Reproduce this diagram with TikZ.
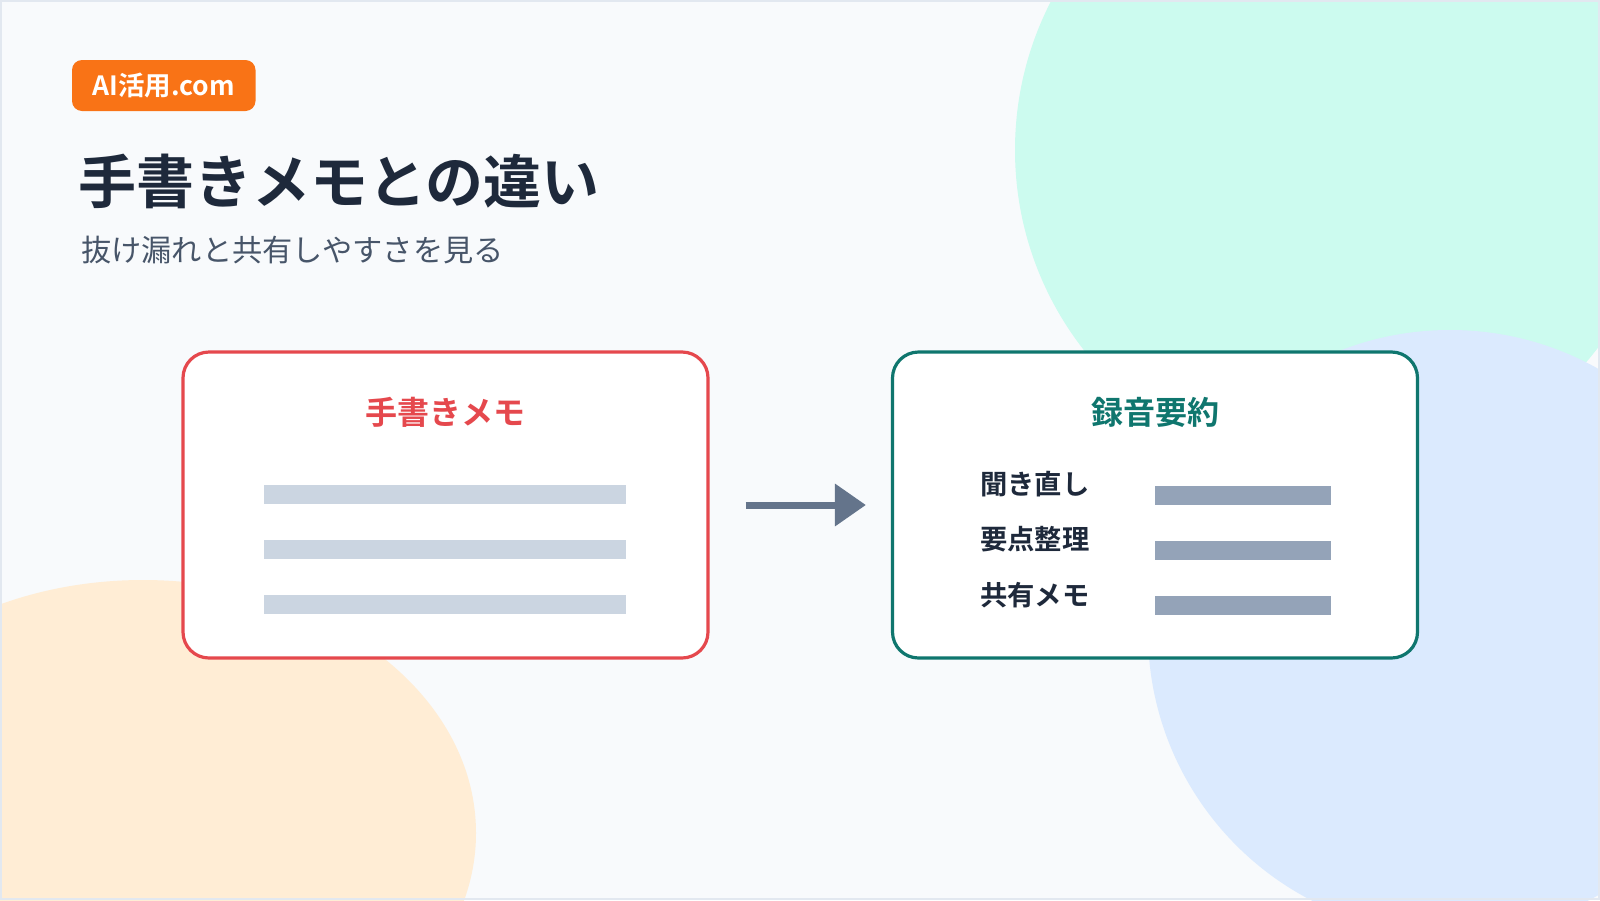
\documentclass[tikz,border=0pt]{standalone}
\usepackage{fontspec}
\setmainfont{Noto Sans CJK JP}[BoldFont={Noto Sans CJK JP Bold}]
\usetikzlibrary{arrows.meta}
\definecolor{bgc}{HTML}{F8FAFC}
\definecolor{framec}{HTML}{E2E8F0}
\definecolor{mintc}{HTML}{CCFBEF}
\definecolor{bluec}{HTML}{DBEAFE}
\definecolor{peachc}{HTML}{FFEDD5}
\definecolor{orangec}{HTML}{F97316}
\definecolor{titlec}{HTML}{1E293B}
\definecolor{subc}{HTML}{475569}
\definecolor{redc}{HTML}{E5484D}
\definecolor{tealc}{HTML}{0F766E}
\definecolor{lbarc}{HTML}{CBD5E1}
\definecolor{dbarc}{HTML}{94A3B8}
\definecolor{arrc}{HTML}{64748B}
\tikzset{
  badgebox/.style={fill=orangec, rounded corners=10pt, minimum width=183.5pt, minimum height=51pt,
    text=white, inner sep=0pt, font=\bfseries\fontsize{26.5}{26.5}\selectfont},
  card/.style={fill=white, line width=3.2pt, rounded corners=26pt, minimum width=525pt,
    minimum height=306pt, inner sep=0pt},
  cardtitle/.style={inner sep=0pt, font=\bfseries\fontsize{32}{32}\selectfont},
  barbox/.style={inner sep=0pt, minimum height=19pt},
  itemtext/.style={inner sep=0pt, anchor=west, text=titlec, font=\bfseries\fontsize{27.3}{27.3}\selectfont},
  arr/.style={draw=arrc, line width=7pt, -{Triangle[length=31pt,width=41pt]}}
}
\begin{document}
\begin{tikzpicture}[x=1pt,y=-1pt]
\useasboundingbox (0,0) rectangle (1600,900);
\fill[bgc] (0,0) rectangle (1600,900);
\begin{scope}
  \clip (0,0) rectangle (1600,900);
  \fill[mintc] (1340,150) circle[radius=325];
  \fill[bluec] (1450,632) circle[radius=302];
  \fill[peachc] (143,833) ellipse[x radius=333, y radius=253];
\end{scope}
\draw[framec, line width=2pt] (1,1) rectangle (1599,899);

\node[badgebox] (badge) at (163.75,85.5) {AI活用.com};
\node[anchor=west, inner sep=0pt, text=titlec, font=\bfseries\fontsize{58}{58}\selectfont] (title) at (78,181) {手書きメモとの違い};
\node[anchor=west, inner sep=0pt, text=subc, font=\fontsize{30.2}{30.2}\selectfont] (sub) at (81,250) {抜け漏れと共有しやすさを見る};

\node[card, draw=redc] (hand) at (445.5,505) {};
\node[card, draw=tealc] (rec) at (1155,505) {};

\node[cardtitle, text=redc] (handt) at (445,412) {手書きメモ};
\node[cardtitle, text=tealc] (rect) at (1155,412) {録音要約};

\node[barbox, fill=lbarc, minimum width=362pt] (hb1) at (445,494.5) {};
\node[barbox, fill=lbarc, minimum width=362pt] (hb2) at (445,549.5) {};
\node[barbox, fill=lbarc, minimum width=362pt] (hb3) at (445,604.5) {};

\node[itemtext] (l1) at (980,484) {聞き直し};
\node[itemtext] (l2) at (980,539) {要点整理};
\node[itemtext] (l3) at (980,595) {共有メモ};

\node[barbox, fill=dbarc, minimum width=176pt] (rb1) at (1243,495.5) {};
\node[barbox, fill=dbarc, minimum width=176pt] (rb2) at (1243,550.5) {};
\node[barbox, fill=dbarc, minimum width=176pt] (rb3) at (1243,605) {};

\draw[arr, shorten <=36pt, shorten >=25pt] (hand.east) -- (rec.west);
\end{tikzpicture}
\end{document}
